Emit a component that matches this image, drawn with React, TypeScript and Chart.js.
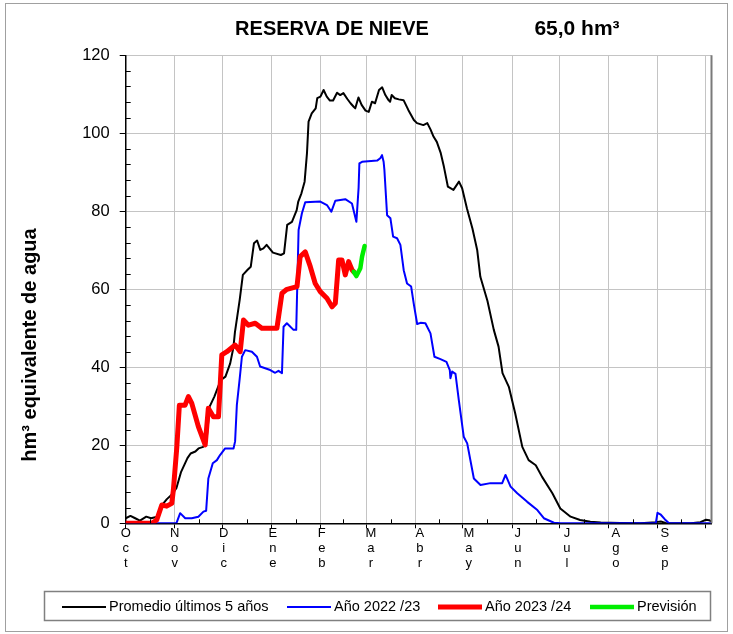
import React, { useEffect, useRef } from 'react';
import { Chart, registerables } from 'chart.js';

Chart.register(...registerables);

const FONT = '"Liberation Sans", Arial, sans-serif';

// Axis definitions (days counted from 1 October)
const monthStarts = [0, 31, 61, 92, 123, 152, 183, 213, 244, 274, 305, 336, 366];
const monthLabels = ['Oct', 'Nov', 'Dic', 'Ene', 'Feb', 'Mar', 'Abr', 'May', 'Jun', 'Jul', 'Ago', 'Sep'];
const yTicks = [0, 20, 40, 60, 80, 100, 120];

const titleText = 'RESERVA DE NIEVE';
const currentText = '65,0 hm³';
const yTitle = 'hm³ equivalente de agua';

// Promedio últimos 5 años
const promedioDays = [0, 3, 6, 9, 13, 16, 20, 23, 26, 29, 32, 35, 39, 41, 44, 46, 49, 51, 53, 56, 60, 63, 66, 68, 69, 72, 74, 77, 79, 81, 83, 85, 87, 89, 93, 98, 100, 102, 105, 108, 109, 111, 113, 114.5, 115.5, 117.5, 120, 121, 123, 125, 127, 129, 131, 133.5, 135.5, 137.5, 140, 142, 144, 145, 147, 149, 151.5, 153.5, 155.5, 157.5, 160, 162, 164, 166, 167, 168, 170, 172.5, 175.5, 178.5, 182, 184, 188, 190.5, 192.5, 194.5, 196.5, 199, 201, 203.5, 207, 210.5, 212.5, 215.5, 219, 222, 224, 228.5, 232.5, 235.5, 238, 242, 246, 250.5, 254.5, 259, 263, 269.5, 274.5, 281, 287, 293.5, 300, 312.5, 325, 335, 338, 341, 357, 363, 366.5, 368.5, 370];
const promedioValues = [1.3, 1.9, 1.3, 0.7, 1.7, 1.3, 1.7, 4.7, 6.2, 7.3, 9, 13.2, 16.7, 17.9, 18.4, 19.2, 19.6, 21, 29.9, 32.5, 36.7, 37.6, 41, 45, 49, 57.3, 63.7, 65, 65.8, 71.8, 72.5, 70.1, 70.5, 71.4, 69.4, 68.8, 69.2, 76.5, 77.3, 80.3, 82.5, 84.6, 87.6, 94.9, 103, 105.1, 106.4, 109, 109.4, 111.1, 109.4, 108.4, 108.4, 110.4, 109.8, 110.3, 108.8, 107.7, 106.8, 106.4, 109.2, 107.3, 105.8, 105.5, 108.1, 107.7, 111.1, 111.8, 109.8, 108.5, 108.1, 109.8, 109, 108.7, 108.5, 106, 103.4, 102.6, 102.1, 102.6, 101, 99.1, 97.8, 94.9, 91.4, 86.3, 85.5, 87.6, 85.9, 80.8, 75.6, 70.1, 63.2, 57, 49.6, 45.3, 38.5, 35, 28.2, 19.6, 16.2, 14.9, 11.9, 7.7, 3.8, 1.7, 0.85, 0.4, 0.2, 0.05, 0, 0.3, 0.45, 0.1, 0, 0.3, 0.9, 0.8, 0.4];

// Año 2022/23
const y2223Days = [0, 32, 34.4, 37.6, 41.7, 45.9, 49.1, 50.8, 52.2, 55, 57.6, 59.6, 62.8, 68.1, 69.1, 70.2, 71.9, 73.4, 75.5, 79.7, 82.9, 84.9, 91.3, 94.4, 96.5, 98.7, 99.7, 101.8, 106, 107.7, 109.2, 111.3, 113.4, 122.9, 127.1, 129.9, 132.4, 138.7, 142.9, 145.7, 147.1, 147.6, 149.3, 158.8, 160.8, 161.9, 162.9, 163.4, 165.1, 167.2, 168.9, 171.4, 173.5, 175.6, 177.7, 180.3, 181.9, 184.1, 186.2, 189.3, 192.5, 195, 198.8, 202.6, 204.7, 205.1, 206.2, 208.3, 210.4, 213.5, 215.7, 219.9, 224.1, 230.4, 237.8, 239.9, 243.1, 247.3, 253.6, 260, 264.1, 270.5, 274.7, 334.8, 335.9, 338, 340.6, 343.2, 370];
const y2223Values = [0, 0, 2.6, 1.3, 1.3, 1.7, 3, 3.2, 11.5, 15.4, 16.2, 17.5, 19.2, 19.2, 21, 30.3, 36.7, 42.7, 44.4, 44, 42.7, 40.2, 39.3, 38.6, 39.1, 38.5, 50.4, 51.3, 49.6, 49.6, 75.2, 79.5, 82.3, 82.5, 81.6, 79.9, 82.7, 83.1, 82, 77.3, 86, 92.3, 92.7, 93, 93.6, 94.4, 92.7, 90.6, 79, 78.2, 73.5, 73.1, 71.4, 64.9, 61.5, 60.7, 56.4, 51.1, 51.4, 51.3, 48.7, 42.7, 42.1, 41.4, 39.3, 37.2, 38.9, 38.3, 31.6, 22.2, 20.5, 11.5, 9.8, 10.3, 10.3, 12.4, 9.4, 7.7, 5.5, 3.4, 1.3, 0.15, 0, 0, 2.7, 2.2, 1, 0, 0];

// Año 2023/24
const y2324Days = [0, 16.4, 19.6, 22.8, 25.9, 29.1, 30.1, 32.3, 33.9, 37.5, 39.6, 41.7, 45.9, 50.2, 52.2, 55.4, 58.6, 60.7, 63.9, 69.1, 72.3, 74.4, 77.5, 81.8, 86, 95.5, 98.7, 101.8, 108.2, 110.2, 113.4, 116.6, 119.7, 122.9, 127.1, 130.3, 132.4, 134.5, 136.6, 138.7, 140.8, 142.9, 144];
const y2324Values = [0, 0, 0.85, 4.7, 4.4, 5.1, 8.5, 19.6, 30.3, 30.3, 32.5, 30.8, 24.8, 20.1, 29.5, 27.3, 27.3, 43.2, 44, 45.7, 44, 52.1, 50.8, 51.3, 50, 50, 59, 60, 60.7, 68.4, 69.6, 65.8, 61.5, 59.4, 57.7, 55.5, 56.4, 67.5, 67.5, 63.7, 67.1, 65, 64.5];

// Previsión
const previsionDays = [144, 145.7, 148.2, 149.3, 150.9];
const previsionValues = [64.5, 63.4, 65.4, 68.4, 71.1];

const seriesLabels = ['Promedio últimos 5 años', 'Año 2022 /23', 'Año 2023 /24', 'Previsión'];
const seriesColors = ['#000000', '#0000ff', '#ff0000', '#00ee00'];
const seriesWidths = [2, 2, 5, 4.5];

const zip = (xs: number[], ys: number[]) => xs.map((x, i) => ({ x, y: ys[i] }));

const decorPlugin = {
  id: 'decor',
  beforeDraw(chart: any) {
    const { ctx, width, height } = chart;
    ctx.save();
    ctx.fillStyle = '#ffffff';
    ctx.fillRect(0, 0, width, height);
    ctx.restore();
  },
  afterDraw(chart: any) {
    const { ctx, chartArea } = chart;
    const xs = chart.scales.x;
    const ys = chart.scales.y;
    ctx.save();
    // minor ticks on y axis (every 4 units, inward)
    ctx.strokeStyle = '#000';
    ctx.lineWidth = 1;
    ctx.beginPath();
    for (let v = 4; v < 120; v += 4) {
      if (v % 20 === 0) continue;
      const py = Math.round(ys.getPixelForValue(v)) + 0.5;
      ctx.moveTo(chartArea.left, py);
      ctx.lineTo(chartArea.left + 5, py);
    }
    // minor ticks on x axis (mid-month, inward)
    for (let i = 0; i < monthStarts.length - 1; i++) {
      const mid = (monthStarts[i] + monthStarts[i + 1]) / 2;
      const px = Math.round(xs.getPixelForValue(mid)) + 0.5;
      ctx.moveTo(px, chartArea.bottom);
      ctx.lineTo(px, chartArea.bottom - 4);
    }
    ctx.stroke();
    // right border of plot
    ctx.strokeStyle = '#7a7a7a';
    ctx.lineWidth = 2;
    ctx.beginPath();
    ctx.moveTo(chartArea.right, chartArea.top);
    ctx.lineTo(chartArea.right, chartArea.bottom);
    ctx.stroke();

    // titles
    ctx.fillStyle = '#000';
    ctx.font = `bold 20px ${FONT}`;
    ctx.textAlign = 'center';
    ctx.textBaseline = 'middle';
    ctx.fillText(titleText, 332, 29);
    ctx.font = `bold 21px ${FONT}`;
    ctx.fillText(currentText, 577, 29);

    // y axis title
    ctx.save();
    ctx.translate(30, 345);
    ctx.rotate(-Math.PI / 2);
    ctx.font = `bold 20px ${FONT}`;
    ctx.fillText(yTitle, 0, 0);
    ctx.restore();

    // legend box
    ctx.strokeStyle = '#808080';
    ctx.lineWidth = 1.5;
    ctx.strokeRect(44.5, 591.5, 666, 29);
    const lineStarts = [62, 287, 438, 590];
    const ly = 607;
    ctx.font = `14.5px ${FONT}`;
    ctx.textAlign = 'left';
    ctx.textBaseline = 'middle';
    chart.data.datasets.forEach((ds: any, i: number) => {
      ctx.strokeStyle = ds.borderColor;
      ctx.lineWidth = ds.borderWidth;
      ctx.lineCap = 'butt';
      ctx.beginPath();
      ctx.moveTo(lineStarts[i], ly);
      ctx.lineTo(lineStarts[i] + 44, ly);
      ctx.stroke();
      ctx.fillStyle = '#000';
      ctx.fillText(ds.label, lineStarts[i] + 47, ly);
    });

    // outer frame
    ctx.strokeStyle = '#a0a0a0';
    ctx.lineWidth = 1;
    ctx.strokeRect(5.5, 3.5, 722, 628);
    ctx.restore();
  },
};

export default function App() {
  const ref = useRef<HTMLCanvasElement | null>(null);

  useEffect(() => {
    document.body.style.margin = '0';
    document.body.style.overflow = 'hidden';
    const canvas = ref.current;
    if (!canvas) return;
    const datasets = [
      zip(promedioDays, promedioValues),
      zip(y2223Days, y2223Values),
      zip(y2324Days, y2324Values),
      zip(previsionDays, previsionValues),
    ].map((data, i) => ({
      label: seriesLabels[i],
      data,
      borderColor: seriesColors[i],
      backgroundColor: seriesColors[i],
      borderWidth: seriesWidths[i],
      pointRadius: 0,
      tension: 0,
      fill: false,
      borderJoinStyle: 'round' as const,
      borderCapStyle: 'round' as const,
      order: 4 - i,
    }));

    const chart = new Chart(canvas, {
      type: 'line',
      data: { datasets },
      plugins: [decorPlugin],
      options: {
        animation: false,
        responsive: false,
        devicePixelRatio: 1,
        parsing: false,
        normalized: true,
        layout: { padding: { left: 0, right: 21.5, top: 55.3, bottom: 50.7 } },
        plugins: {
          legend: { display: false },
          title: { display: false },
          tooltip: { enabled: false },
        },
        scales: {
          x: {
            type: 'linear',
            position: 'bottom',
            min: 0,
            max: 370,
            weight: 0,
            afterBuildTicks: (s: any) => {
              s.ticks = monthStarts.map((v) => ({ value: v }));
            },
            afterFit: (s: any) => {
              s.height = 0;
            },
            ticks: { display: false },
            grid: {
              color: '#c4c4c4',
              lineWidth: 1,
              drawTicks: true,
              tickLength: 5,
              tickColor: '#000',
            },
            border: { color: '#000', width: 1.5 },
          },
          xm: {
            type: 'linear',
            position: 'bottom',
            min: 0,
            max: 11.95,
            weight: 1,
            afterBuildTicks: (s: any) => {
              s.ticks = monthLabels.map((_, i) => ({ value: i }));
            },
            afterFit: (s: any) => {
              s.height = 60;
            },
            ticks: {
              autoSkip: false,
              maxRotation: 0,
              minRotation: 0,
              padding: 2.5,
              color: '#000',
              font: { family: FONT, size: 13, lineHeight: 15 / 13 },
              callback: (v: any) => (monthLabels[Math.round(Number(v))] || '').split(''),
            },
            grid: { display: false, drawTicks: false },
            border: { display: false },
          },
          y: {
            type: 'linear',
            min: 0,
            max: 120,
            afterBuildTicks: (s: any) => {
              s.ticks = yTicks.map((v) => ({ value: v }));
            },
            afterFit: (s: any) => {
              s.width = 125.7;
            },
            ticks: {
              color: '#000',
              padding: 10,
              font: { family: FONT, size: 16.5 },
            },
            grid: {
              color: '#c4c4c4',
              lineWidth: 1,
              tickLength: 6,
              tickColor: '#000',
            },
            border: { color: '#000', width: 1.5 },
          },
        },
      },
    });
    return () => chart.destroy();
  }, []);

  return (
    <canvas
      ref={ref}
      width={733}
      height={634}
      style={{ display: 'block', width: '733px', height: '634px' }}
    />
  );
}
